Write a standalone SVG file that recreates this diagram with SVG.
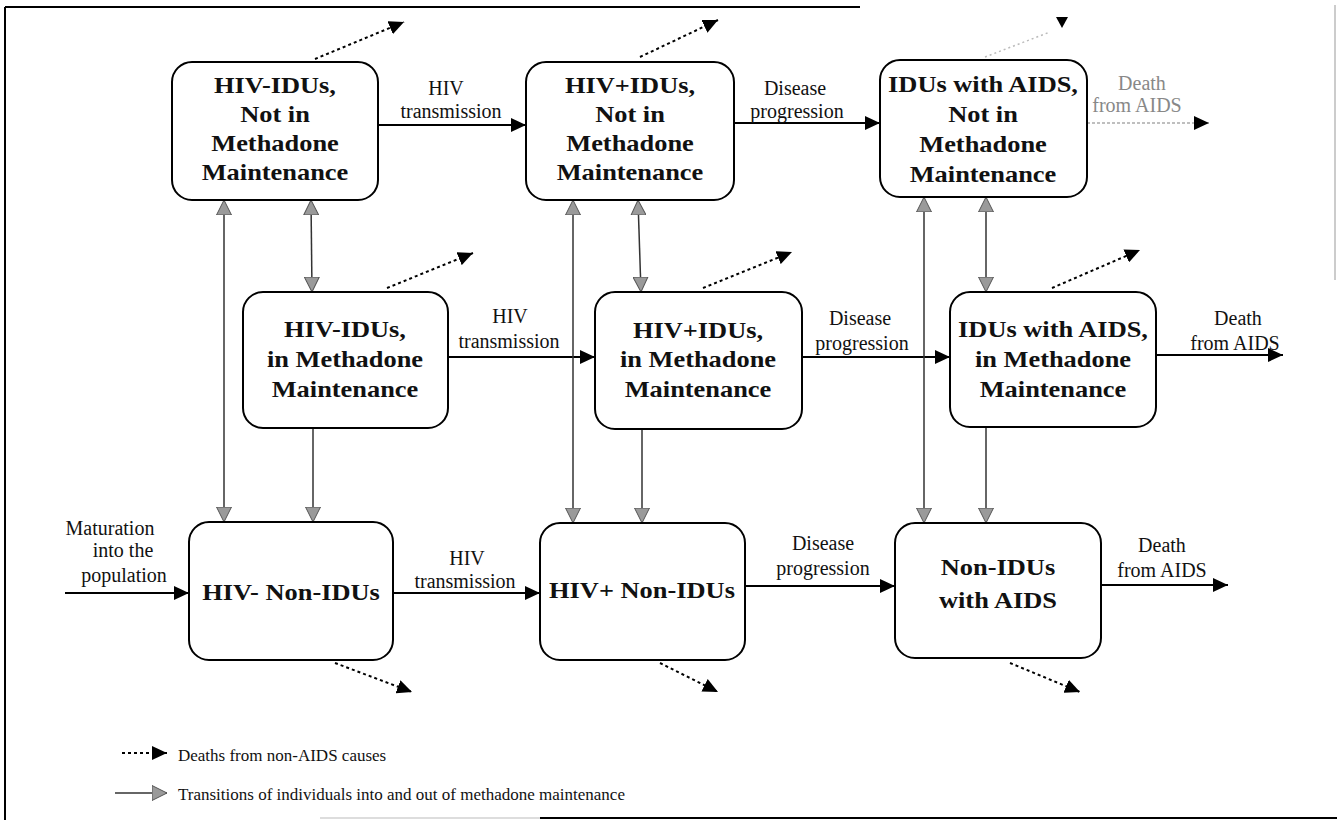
<svg xmlns="http://www.w3.org/2000/svg" width="1337" height="820" viewBox="0 0 1337 820">
<defs>
<style>
.box{fill:#fff;stroke:#000;stroke-width:2}
.bt{font-family:"Liberation Serif","Times New Roman",serif;font-weight:bold;font-size:24px;text-anchor:middle;fill:#111}
.lb{font-family:"Liberation Serif","Times New Roman",serif;font-size:20px;text-anchor:middle;fill:#111}
.lg{font-family:"Liberation Serif","Times New Roman",serif;font-size:17px;fill:#111}
.sol{stroke:#000;stroke-width:2;fill:none}
.dot{stroke:#000;stroke-width:2;stroke-dasharray:3 3;fill:none}
.gl{stroke:#333;stroke-width:1.5;fill:none}
.frame{stroke:#000;stroke-width:2;fill:none}
</style>
<marker id="ah" markerUnits="userSpaceOnUse" markerWidth="16" markerHeight="14" refX="15" refY="7" orient="auto">
<path d="M0,0 L15,7 L0,14 z" fill="#000"/>
</marker>
<marker id="gh" markerUnits="userSpaceOnUse" markerWidth="16" markerHeight="16" refX="15" refY="8" orient="auto-start-reverse">
<path d="M0,0.5 L15,8 L0,15.5 z" fill="#9a9a9a" stroke="#555" stroke-width="1"/>
</marker>
</defs>
<rect width="1337" height="820" fill="#fff"/>
<g id="frame">
<line class="frame" x1="5" y1="7" x2="860" y2="7"/>
<line class="frame" x1="5" y1="7" x2="5" y2="820"/>
<line x1="1335" y1="5" x2="1335" y2="280" stroke="#999" stroke-width="1"/>
<line class="frame" x1="540" y1="818" x2="1337" y2="818"/>
<line x1="320" y1="818" x2="540" y2="818" stroke="#bbb" stroke-width="1"/>
</g>
<g id="connectors">
<line class="sol" x1="378" y1="125" x2="526" y2="125" marker-end="url(#ah)"/>
<line class="sol" x1="734" y1="123" x2="880" y2="123" marker-end="url(#ah)"/>
<line x1="1087" y1="123" x2="1209" y2="123" stroke="#aaa" stroke-width="1.5" stroke-dasharray="3 2" marker-end="url(#ah)"/>
<line class="sol" x1="448" y1="357" x2="595" y2="357" marker-end="url(#ah)"/>
<line class="sol" x1="802" y1="357" x2="950" y2="357" marker-end="url(#ah)"/>
<line class="sol" x1="1156" y1="355" x2="1283" y2="355" marker-end="url(#ah)"/>
<line class="sol" x1="65" y1="593" x2="189" y2="593" marker-end="url(#ah)"/>
<line class="sol" x1="393" y1="593" x2="540" y2="593" marker-end="url(#ah)"/>
<line class="sol" x1="745" y1="586" x2="895" y2="586" marker-end="url(#ah)"/>
<line class="sol" x1="1101" y1="585" x2="1228" y2="585" marker-end="url(#ah)"/>
<line class="gl" x1="224" y1="200" x2="224" y2="522" marker-start="url(#gh)" marker-end="url(#gh)"/>
<line class="gl" x1="311" y1="200" x2="312" y2="292" marker-start="url(#gh)" marker-end="url(#gh)"/>
<line class="gl" x1="313" y1="428" x2="313" y2="522" marker-end="url(#gh)"/>
<line class="gl" x1="573" y1="200" x2="573" y2="523" marker-start="url(#gh)" marker-end="url(#gh)"/>
<line class="gl" x1="638" y1="200" x2="641" y2="292" marker-start="url(#gh)" marker-end="url(#gh)"/>
<line class="gl" x1="642" y1="429" x2="642" y2="523" marker-end="url(#gh)"/>
<line class="gl" x1="924" y1="197" x2="924" y2="523" marker-start="url(#gh)" marker-end="url(#gh)"/>
<line class="gl" x1="986" y1="197" x2="986" y2="292" marker-start="url(#gh)" marker-end="url(#gh)"/>
<line class="gl" x1="986" y1="427" x2="986" y2="523" marker-end="url(#gh)"/>
<line class="dot" x1="315" y1="59" x2="404" y2="22" marker-end="url(#ah)"/>
<line class="dot" x1="640" y1="57" x2="718" y2="20" marker-end="url(#ah)"/>
<line x1="985" y1="57" x2="1050" y2="32" stroke="#bbb" stroke-width="1.5" stroke-dasharray="2 3"/>
<path d="M1056,17 L1068,17 L1062,28 z" fill="#000"/>
<line class="dot" x1="387" y1="288" x2="473" y2="253" marker-end="url(#ah)"/>
<line class="dot" x1="703" y1="288" x2="792" y2="252" marker-end="url(#ah)"/>
<line class="dot" x1="1052" y1="288" x2="1140" y2="250" marker-end="url(#ah)"/>
<line class="dot" x1="335" y1="663" x2="412" y2="692" marker-end="url(#ah)"/>
<line class="dot" x1="660" y1="663" x2="718" y2="692" marker-end="url(#ah)"/>
<line class="dot" x1="1010" y1="663" x2="1080" y2="692" marker-end="url(#ah)"/>
</g>
<g id="labels">
<text class="lb" x="446" y="95">HIV</text>
<text class="lb" x="451" y="118">transmission</text>
<text class="lb" x="795" y="95">Disease</text>
<text class="lb" x="797" y="118">progression</text>
<text class="lb" x="1142" y="90" style="fill:#888">Death</text>
<text class="lb" x="1137" y="112" style="fill:#888">from AIDS</text>
<text class="lb" x="510" y="323">HIV</text>
<text class="lb" x="509" y="348">transmission</text>
<text class="lb" x="860" y="325">Disease</text>
<text class="lb" x="862" y="350">progression</text>
<text class="lb" x="1238" y="325">Death</text>
<text class="lb" x="1235" y="350">from AIDS</text>
<text class="lb" x="110" y="535">Maturation</text>
<text class="lb" x="123" y="557">into the</text>
<text class="lb" x="124" y="582">population</text>
<text class="lb" x="467" y="565">HIV</text>
<text class="lb" x="465" y="588">transmission</text>
<text class="lb" x="823" y="550">Disease</text>
<text class="lb" x="823" y="575">progression</text>
<text class="lb" x="1162" y="552">Death</text>
<text class="lb" x="1162" y="577">from AIDS</text>
</g>
<g id="nodeA">
<rect class="box" x="172" y="62" width="206" height="138" rx="20"/>
<g transform="translate(275 0) scale(1.1 1)">
<text class="bt" x="0" y="93">HIV-IDUs,</text><text class="bt" x="0" y="122">Not in</text><text class="bt" x="0" y="151">Methadone</text><text class="bt" x="0" y="180">Maintenance</text>
</g>
</g>
<g id="nodeB">
<rect class="box" x="526" y="62" width="208" height="138" rx="20"/>
<g transform="translate(630 0) scale(1.1 1)">
<text class="bt" x="0" y="93">HIV+IDUs,</text><text class="bt" x="0" y="122">Not in</text><text class="bt" x="0" y="151">Methadone</text><text class="bt" x="0" y="180">Maintenance</text>
</g>
</g>
<g id="nodeC">
<rect class="box" x="880" y="60" width="207" height="137" rx="20"/>
<g transform="translate(983 0) scale(1.1 1)">
<text class="bt" x="0" y="92">IDUs with AIDS,</text><text class="bt" x="0" y="122">Not in</text><text class="bt" x="0" y="152">Methadone</text><text class="bt" x="0" y="182">Maintenance</text>
</g>
</g>
<g id="nodeD">
<rect class="box" x="243" y="292" width="205" height="136" rx="20"/>
<g transform="translate(345 0) scale(1.1 1)">
<text class="bt" x="0" y="337">HIV-IDUs,</text><text class="bt" x="0" y="367">in Methadone</text><text class="bt" x="0" y="397">Maintenance</text>
</g>
</g>
<g id="nodeE">
<rect class="box" x="595" y="292" width="207" height="137" rx="20"/>
<g transform="translate(698 0) scale(1.1 1)">
<text class="bt" x="0" y="338">HIV+IDUs,</text><text class="bt" x="0" y="367">in Methadone</text><text class="bt" x="0" y="397">Maintenance</text>
</g>
</g>
<g id="nodeF">
<rect class="box" x="950" y="292" width="206" height="135" rx="20"/>
<g transform="translate(1053 0) scale(1.1 1)">
<text class="bt" x="0" y="337">IDUs with AIDS,</text><text class="bt" x="0" y="367">in Methadone</text><text class="bt" x="0" y="397">Maintenance</text>
</g>
</g>
<g id="nodeG">
<rect class="box" x="189" y="522" width="204" height="138" rx="20"/>
<g transform="translate(291 0) scale(1.1 1)">
<text class="bt" x="0" y="600">HIV- Non-IDUs</text>
</g>
</g>
<g id="nodeH">
<rect class="box" x="540" y="523" width="205" height="137" rx="20"/>
<g transform="translate(642 0) scale(1.1 1)">
<text class="bt" x="0" y="598">HIV+ Non-IDUs</text>
</g>
</g>
<g id="nodeI">
<rect class="box" x="895" y="523" width="206" height="135" rx="20"/>
<g transform="translate(998 0) scale(1.1 1)">
<text class="bt" x="0" y="575">Non-IDUs</text><text class="bt" x="0" y="608">with AIDS</text>
</g>
</g>
<g id="legend">
<line class="dot" x1="122" y1="753" x2="167" y2="753" stroke-width="1.5" marker-end="url(#ah)"/>
<text class="lg" x="178" y="761">Deaths from non-AIDS causes</text>
<line class="gl" x1="115" y1="793" x2="167" y2="793" stroke="#000" stroke-width="2" marker-end="url(#gh)"/>
<text class="lg" x="178" y="800">Transitions of individuals into and out of methadone maintenance</text>
</g>
</svg>
